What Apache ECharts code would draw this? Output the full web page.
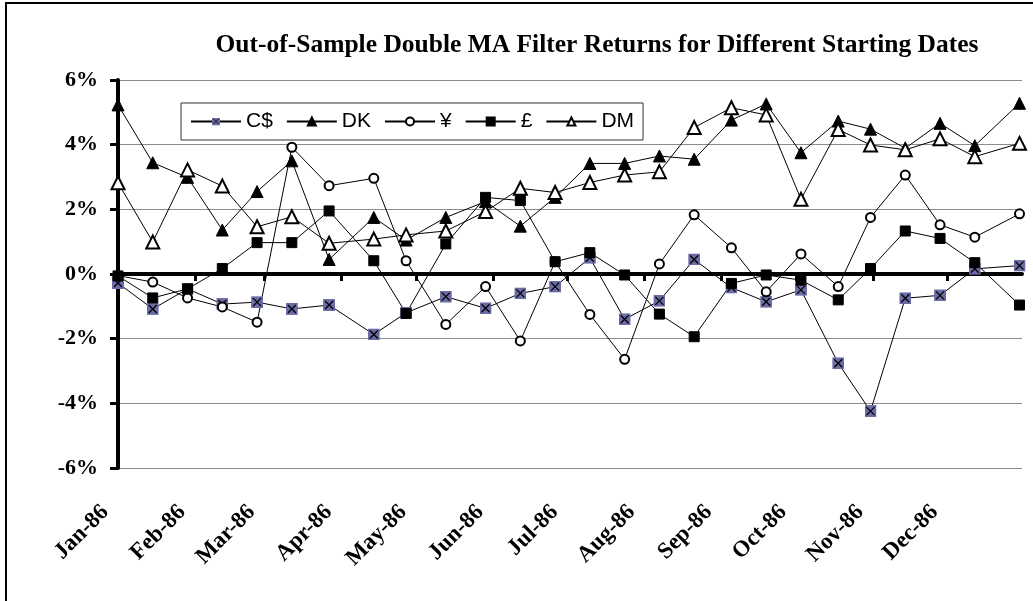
<!DOCTYPE html>
<html>
<head>
<meta charset="utf-8">
<script src="https://cdn.jsdelivr.net/npm/echarts@6/dist/echarts.min.js"></script>
<style>
    html, body { margin: 0; padding: 0; background: #fff; }
    #main { width: 1033px; height: 601px; }
</style>
</head>
<body>
<div id="main"></div>
<script>
    // starting dates of each test run
    var startDates = ['1986-01-01', '1986-01-15', '1986-01-29', '1986-02-12', '1986-02-26', '1986-03-12',
        '1986-03-27', '1986-04-14', '1986-04-27', '1986-05-13', '1986-05-29', '1986-06-12', '1986-06-26',
        '1986-07-10', '1986-07-24', '1986-08-07', '1986-08-21', '1986-09-05', '1986-09-19', '1986-10-03',
        '1986-10-18', '1986-10-31', '1986-11-14', '1986-11-28', '1986-12-12', '1986-12-30'];

    // returns in %
    var cad = [-0.28, -1.08, -0.46, -0.93, -0.87, -1.08, -0.96, -1.87, -1.2, -0.70, -1.06, -0.6, -0.39,
        0.5, -1.40, -0.83, 0.45, -0.42, -0.86, -0.49, -2.76, -4.24, -0.75, -0.66, 0.16, 0.26];
    var dk = [5.23, 3.44, 2.99, 1.36, 2.55, 3.50, 0.45, 1.75, 1.05, 1.75, 2.24, 1.48, 2.37,
        3.42, 3.42, 3.65, 3.55, 4.76, 5.26, 3.75, 4.73, 4.48, 3.89, 4.66, 3.97, 5.28];
    var yen = [-0.05, -0.25, -0.74, -1.02, -1.49, 3.92, 2.73, 2.96, 0.41, -1.56, -0.39, -2.07, 0.38,
        -1.25, -2.64, 0.31, 1.83, 0.81, -0.55, 0.62, -0.39, 1.75, 3.06, 1.52, 1.14, 1.86];
    var gbp = [-0.06, -0.74, -0.46, 0.17, 0.97, 0.97, 1.95, 0.41, -1.22, 0.93, 2.37, 2.27, 0.38,
        0.66, -0.03, -1.24, -1.94, -0.29, -0.03, -0.19, -0.80, 0.17, 1.33, 1.10, 0.35, -0.96];
    var dm = [2.82, 0.99, 3.22, 2.72, 1.46, 1.77, 0.95, 1.08, 1.21, 1.33, 1.93, 2.65, 2.52,
        2.83, 3.06, 3.16, 4.53, 5.14, 4.92, 2.31, 4.47, 3.99, 3.84, 4.18, 3.63, 4.04];

    var monthLabels = ['Jan-86', 'Feb-86', 'Mar-86', 'Apr-86', 'May-86', 'Jun-86',
        'Jul-86', 'Aug-86', 'Sep-86', 'Oct-86', 'Nov-86', 'Dec-86'];
    var yTicks = [-6, -4, -2, 0, 2, 4, 6];

    var DAY = 86400000;
    var yearStart = Date.UTC(1986, 0, 1);
    function dayOf(s) {
        var p = s.split('-');
        return (Date.UTC(+p[0], +p[1] - 1, +p[2]) - yearStart) / DAY;
    }
    var monthDays = monthLabels.map(function (m, i) {
        return (Date.UTC(1986, i, 1) - yearStart) / DAY;
    });
    var xDays = startDates.map(dayOf);
    function pairs(vals) {
        return vals.map(function (v, i) { return [xDays[i], v]; });
    }

    // blue square with a black cross
    var crossSvg = '<svg xmlns="http://www.w3.org/2000/svg" width="12" height="12" viewBox="0 0 12 12">' +
        '<rect x="0" y="0" width="12" height="12" fill="#6b6ba6"/>' +
        '<path d="M2 2L10 10M10 2L2 10" stroke="#000" stroke-width="1.3"/></svg>';
    var crossSymbol = 'image://data:image/svg+xml;charset=utf-8,' + encodeURIComponent(crossSvg);

    var serif = '"Liberation Serif", "Times New Roman", serif';

    function makeSeries(name, vals, symbol, size) {
        return {
            name: name,
            type: 'line',
            data: pairs(vals),
            symbol: symbol,
            symbolSize: size,
            showAllSymbol: true,
            lineStyle: {color: '#000', width: 1},
            itemStyle: {color: '#000', borderColor: '#000', borderWidth: 1},
            emphasis: {disabled: true}
        };
    }

    var option = {
        animation: false,
        backgroundColor: '#fff',
        title: {
            text: 'Out-of-Sample Double MA Filter Returns for Different Starting Dates',
            left: 592,
            top: 27,
            textAlign: 'center',
            textStyle: {fontFamily: serif, fontWeight: 'bold', fontSize: 25.5, color: '#000'}
        },
        legend: {
            left: 181,
            top: 103,
            padding: [8, 9],
            itemGap: 13,
            itemWidth: 50,
            itemHeight: 10,
            borderColor: '#333',
            borderWidth: 1,
            textStyle: {fontFamily: '"Liberation Sans", Arial, sans-serif', fontSize: 21, color: '#000'},
            data: ['C$', 'DK', '¥', '£', 'DM']
        },
        grid: {left: 118, right: 11, top: 80, bottom: 133},
        xAxis: [
            {
                type: 'value',
                min: 0,
                max: 364,
                axisLine: {show: true, onZero: true, lineStyle: {color: '#000', width: 4}},
                axisTick: {show: true, customValues: monthDays, length: 7, lineStyle: {color: '#000', width: 3}},
                axisLabel: {show: false},
                splitLine: {show: false}
            },
            {
                type: 'value',
                min: 0,
                max: 364,
                position: 'bottom',
                axisLine: {show: false, onZero: false},
                axisTick: {show: false},
                axisLabel: {
                    customValues: monthDays,
                    rotate: 45,
                    margin: 28,
                    padding: [0, 18, 0, 0],
                    fontFamily: serif,
                    fontWeight: 'bold',
                    fontSize: 23,
                    color: '#000',
                    formatter: function (v) {
                        var i = monthDays.indexOf(Math.round(v));
                        return i >= 0 ? monthLabels[i] : '';
                    }
                },
                splitLine: {show: false}
            }
        ],
        yAxis: {
            type: 'value',
            min: yTicks[0],
            max: yTicks[yTicks.length - 1],
            interval: 2,
            axisLine: {show: true, lineStyle: {color: '#000', width: 4}},
            axisTick: {show: true, length: 8, lineStyle: {color: '#000', width: 3}},
            axisLabel: {
                margin: 20,
                fontFamily: serif,
                fontWeight: 'bold',
                fontSize: 22,
                color: '#000',
                formatter: '{value}%'
            },
            splitLine: {show: true, lineStyle: {color: '#8c8c8c', width: 1}}
        },
        series: [
            makeSeries('C$', cad, crossSymbol, 12),
            makeSeries('DK', dk, 'triangle', 12),
            makeSeries('¥', yen, 'emptyCircle', 9),
            makeSeries('£', gbp, 'rect', 10),
            makeSeries('DM', dm, 'emptyTriangle', 13)
        ],
        graphic: [{
            type: 'rect',
            silent: true,
            shape: {x: 6, y: 3, width: 1060, height: 640},
            style: {fill: 'none', stroke: '#000', lineWidth: 2},
            z: 100
        }]
    };

    var chart = echarts.init(document.getElementById('main'));
    chart.setOption(option);
</script>
</body>
</html>
